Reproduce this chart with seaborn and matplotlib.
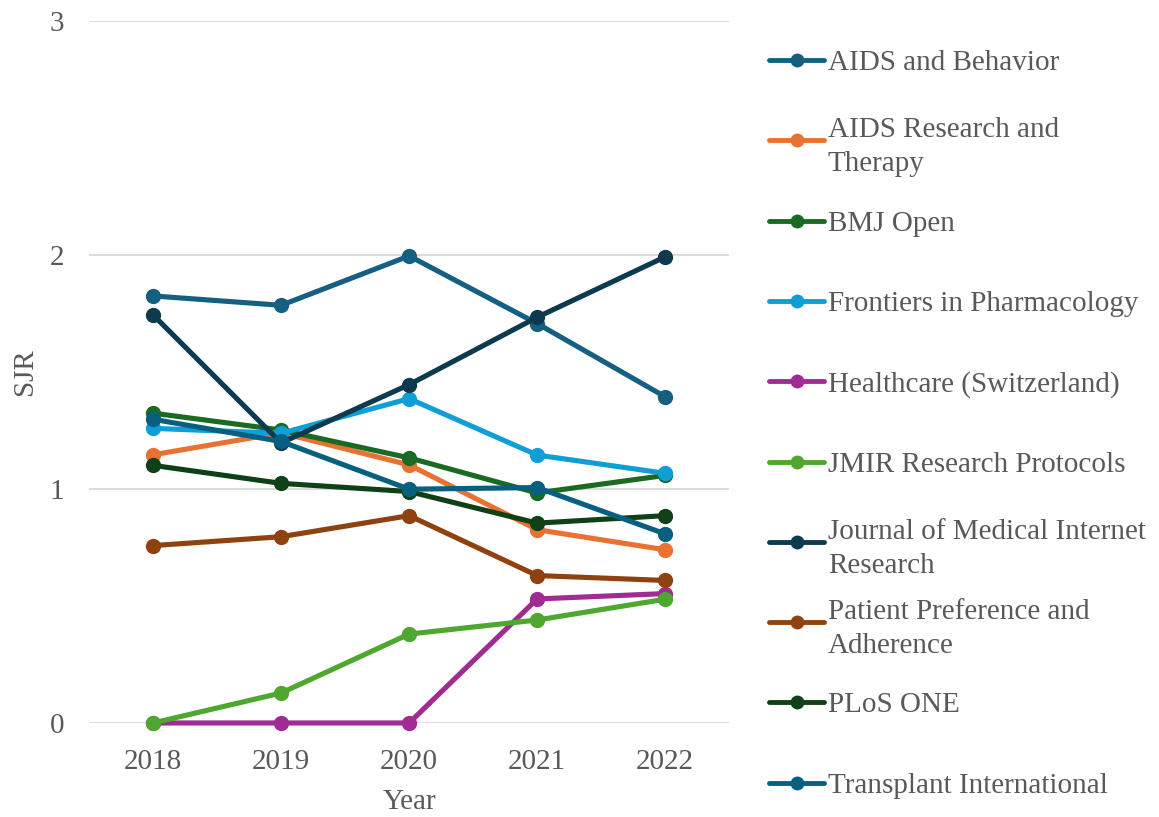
import pandas as pd
import matplotlib.pyplot as plt
from matplotlib.lines import Line2D
import seaborn as sns

# --- data ---
years = [2018, 2019, 2020, 2021, 2022]
journals = [
    "AIDS and Behavior",
    "AIDS Research and\nTherapy",
    "BMJ Open",
    "Frontiers in Pharmacology",
    "Healthcare (Switzerland)",
    "JMIR Research Protocols",
    "Journal of Medical Internet\nResearch",
    "Patient Preference and\nAdherence",
    "PLoS ONE",
    "Transplant International",
]
aids_behavior = [1.825, 1.785, 1.996, 1.707, 1.394]
aids_research = [1.146, 1.240, 1.103, 0.826, 0.740]
bmj_open = [1.324, 1.252, 1.133, 0.983, 1.058]
frontiers_pharm = [1.259, 1.238, 1.386, 1.145, 1.067]
healthcare = [0.0, 0.0, 0.0, 0.530, 0.553]
jmir_protocols = [0.0, 0.128, 0.380, 0.440, 0.529]
jmir = [1.744, 1.197, 1.446, 1.734, 1.992]
patient_pref = [0.758, 0.796, 0.886, 0.630, 0.609]
plos_one = [1.101, 1.024, 0.989, 0.854, 0.886]
transplant = [1.298, 1.203, 0.999, 1.006, 0.808]

series = [aids_behavior, aids_research, bmj_open, frontiers_pharm, healthcare,
          jmir_protocols, jmir, patient_pref, plos_one, transplant]
colors = ["#156082", "#E97132", "#196B24", "#0F9ED5", "#A02B93",
          "#4EA72E", "#0D3A4F", "#8F420F", "#0F4016", "#095F80"]

rows = []
for name, vals in zip(journals, series):
    for yr, v in zip(years, vals):
        rows.append({"Year": yr, "SJR": v, "Journal": name})
df = pd.DataFrame(rows)

# --- style ---
sns.set_theme(style="white")
plt.rcParams['font.family'] = ['Liberation Serif', 'DejaVu Serif']
text_color = "#595959"

fig = plt.figure(figsize=(11.59, 8.17), dpi=100)
ax = fig.add_axes([0.0768, 0.1151, 0.5524, 0.8592])

palette = dict(zip(journals, colors))
sns.lineplot(data=df, x="Year", y="SJR", hue="Journal", hue_order=journals,
             palette=palette, marker="o", markersize=11, markeredgewidth=0,
             linewidth=3.7, legend=False, ax=ax)
for ln in ax.lines:
    ln.set_clip_on(False)
    ln.set_solid_capstyle("round")

ax.set_xlim(2017.5, 2022.5)
ax.set_ylim(0, 3)
ax.set_xticks(years)
ax.set_yticks([0, 1, 2, 3])
ax.grid(axis="y", color="#d9d9d9", linewidth=1.3)
ax.set_axisbelow(True)
for s in ax.spines.values():
    s.set_visible(False)
ax.tick_params(axis="both", length=0, labelsize=21, colors=text_color)
ax.tick_params(axis="x", pad=19)
ax.tick_params(axis="y", pad=18)
ax.set_xlabel("Year", fontsize=21, color=text_color, labelpad=10)
ax.set_ylabel("SJR", fontsize=21, color=text_color, labelpad=8)

# --- legend (Excel-like, fixed slots) ---
W, H = 1159, 817
for i, (name, col) in enumerate(zip(journals, colors)):
    yc = 1 - (60 + 80.3 * i) / H
    fig.add_artist(Line2D([769 / W, 824 / W], [yc, yc], color=col,
                          linewidth=3.5, solid_capstyle="round",
                          transform=fig.transFigure))
    fig.add_artist(Line2D([797 / W], [yc], color=col, marker="o",
                          markersize=10, markeredgewidth=0,
                          transform=fig.transFigure))
    fig.text(828 / W, yc, name, fontsize=21, color=text_color,
             va="center_baseline", ha="left", linespacing=1.4)

plt.savefig("out.png", dpi=100)
plt.close()
